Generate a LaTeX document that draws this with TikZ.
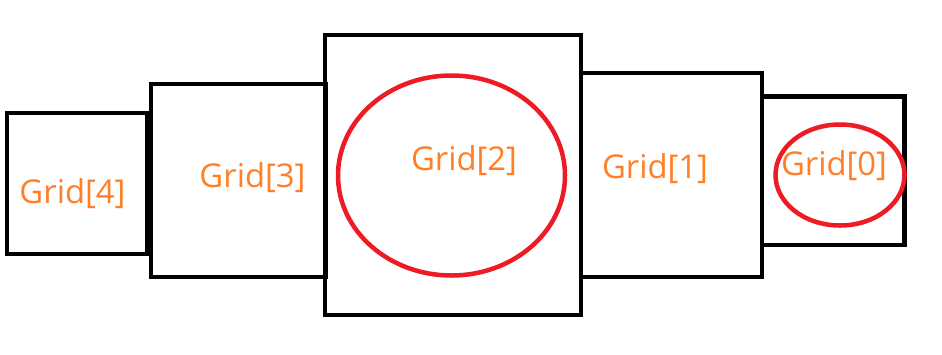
\documentclass[tikz,border=0pt]{standalone}
\usepackage{fontspec}
\setmainfont{Open Sans}
\usetikzlibrary{shapes.geometric}
\definecolor{gridorange}{RGB}{255,127,39}
\definecolor{ringred}{RGB}{237,28,36}
\begin{document}
\begin{tikzpicture}[x=1pt,y=-1pt,
  gridbox/.style={draw=black,line width=4.3pt,rectangle,inner sep=0pt,outer sep=0pt},
  ring/.style={draw=ringred,line width=4.5pt,ellipse,inner sep=0pt,outer sep=0pt},
  gridlabel/.style={text=gridorange,anchor=base,inner sep=0pt,font=\fontsize{32.8}{38}\selectfont}]
\useasboundingbox[fill=white] (0,0) rectangle (942,354);
\node[gridbox,minimum width=140pt,minimum height=141pt] (g4) at (77,183.5) {};
\node[gridbox,minimum width=175pt,minimum height=193pt] (g3) at (238.5,180.5) {};
\node[gridbox,minimum width=256pt,minimum height=280pt] (g2) at (453,175) {};
\node[gridbox,minimum width=181pt,minimum height=204pt] (g1) at (671.5,175) {};
\node[gridbox,minimum width=142.5pt,minimum height=148.5pt] (g0) at (833.25,170.75) {};
\node[ring,minimum width=227pt,minimum height=200pt] (e2) at (451.5,175.5) {};
\node[ring,minimum width=129pt,minimum height=101pt] (e0) at (840,175) {};
\node[gridlabel] (t4) at (72.5,203) {Grid[4]};
\node[gridlabel] (t3) at (252.5,187) {Grid[3]};
\node[gridlabel] (t2) at (464,170) {Grid[2]};
\node[gridlabel] (t1) at (655,178) {Grid[1]};
\node[gridlabel] (t0) at (834,175) {Grid[0]};
\end{tikzpicture}
\end{document}
